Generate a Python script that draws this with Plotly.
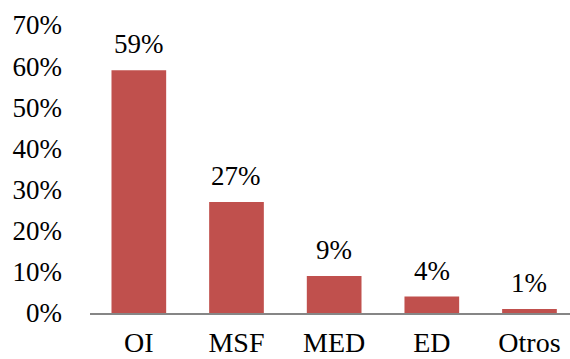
import plotly.graph_objects as go

categories = ["OI", "MSF", "MED", "ED", "Otros"]
values = [0.59, 0.27, 0.09, 0.04, 0.01]
labels = ["59%", "27%", "9%", "4%", "1%"]
y_ticks = [0, 0.1, 0.2, 0.3, 0.4, 0.5, 0.6, 0.7]

FONT = "Times New Roman"

fig = go.Figure()
fig.add_trace(go.Bar(
    x=categories, y=values, marker_color="#C0504D",
    marker_line_width=0, width=0.56, hoverinfo="skip",
))
for c, v, t in zip(categories, values, labels):
    fig.add_annotation(x=c, y=v, text=t, showarrow=False, yanchor="bottom",
                       yshift=9, font=dict(family=FONT, size=27, color="#000"))

fig.update_layout(
    width=570, height=359,
    margin=dict(l=90, r=0, t=25, b=46),
    paper_bgcolor="white", plot_bgcolor="white",
    showlegend=False,
    font=dict(family=FONT, size=27, color="#000"),
    xaxis=dict(range=[-0.5, 4.415], showline=True, linecolor="#868686", linewidth=2,
               ticks="", ticklabelstandoff=3, showgrid=False, zeroline=False,
               automargin=False,
               tickfont=dict(family=FONT, size=28, color="#000")),
    yaxis=dict(range=[0, 0.7], tickvals=y_ticks, tickformat=".0%", showline=False,
               showgrid=False, zeroline=False, ticks="", ticklabelstandoff=27,
               automargin=False,
               tickfont=dict(family=FONT, size=27, color="#000")),
)
fig.write_html("out.html")
